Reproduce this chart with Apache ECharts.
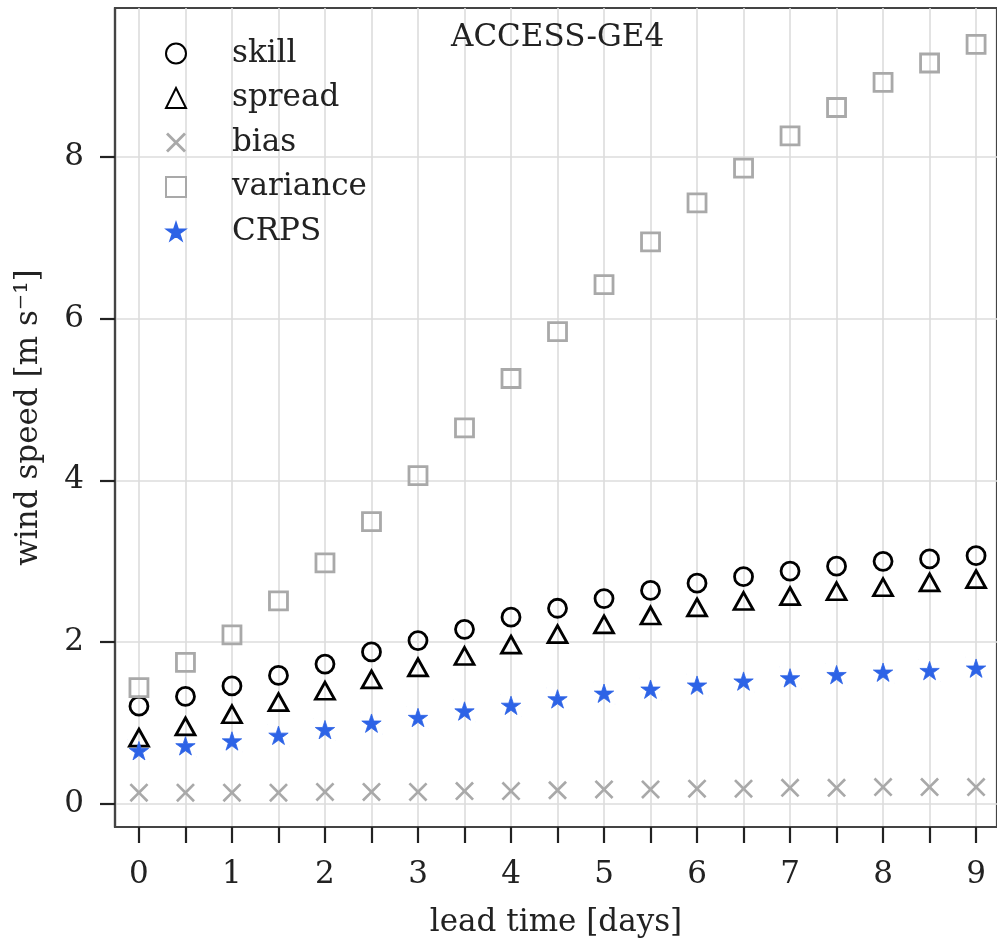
<!DOCTYPE html>
<html>
<head>
<meta charset="utf-8">
<script src="https://cdn.jsdelivr.net/npm/echarts@6/dist/echarts.min.js"></script>
<style>
  html, body { margin: 0; padding: 0; background: #fff; }
  #chart { width: 997px; height: 943px; }
</style>
</head>
<body>
<div id="chart"></div>
<script>
// Lead times in days (every 12 h)
const leadTime = [0, 0.5, 1, 1.5, 2, 2.5, 3, 3.5, 4, 4.5, 5, 5.5, 6, 6.5, 7, 7.5, 8, 8.5, 9];

// Verification scores, wind speed [m s^-1]
const skill    = [1.21, 1.33, 1.46, 1.59, 1.73, 1.88, 2.02, 2.16, 2.31, 2.42, 2.54, 2.64, 2.73, 2.81, 2.88, 2.94, 3.00, 3.03, 3.07];
const spread   = [0.82, 0.96, 1.11, 1.26, 1.40, 1.54, 1.69, 1.83, 1.97, 2.10, 2.22, 2.33, 2.43, 2.51, 2.57, 2.63, 2.68, 2.74, 2.78];
const bias     = [0.14, 0.14, 0.14, 0.14, 0.15, 0.15, 0.15, 0.16, 0.16, 0.17, 0.18, 0.18, 0.19, 0.19, 0.20, 0.20, 0.21, 0.21, 0.21];
const variance = [1.44, 1.75, 2.09, 2.51, 2.98, 3.49, 4.06, 4.65, 5.26, 5.84, 6.42, 6.95, 7.43, 7.86, 8.26, 8.61, 8.92, 9.16, 9.39];
const crps     = [0.66, 0.72, 0.78, 0.85, 0.92, 1.00, 1.07, 1.15, 1.22, 1.30, 1.37, 1.42, 1.47, 1.52, 1.56, 1.60, 1.63, 1.65, 1.68];

// Axis ticks
const xTicks = [0, 0.5, 1, 1.5, 2, 2.5, 3, 3.5, 4, 4.5, 5, 5.5, 6, 6.5, 7, 7.5, 8, 8.5, 9];
const xLabels = [0, 1, 2, 3, 4, 5, 6, 7, 8, 9];
const yTicks = [0, 2, 4, 6, 8];

const FONT = 'DejaVu Serif';
const FS = 31;
const TEXT = '#222';
const BLUE = '#2d63e6';
const GREY = '#a9a9a9';

// Marker shapes not built into ECharts
const crossPath = 'path://M0,10 L10,0 L50,40 L90,0 L100,10 L60,50 L100,90 L90,100 L50,60 L10,100 L0,90 L40,50 Z';
// five-pointed star with a small empty margin around it
const starPath = 'path://M-4,-9 L-3.9,-9 Z M104,99 L103.9,99 Z ' +
  'M50,0 L61.23,34.55 L97.55,34.55 L68.17,55.9 L79.39,90.45 L50,69.1 L20.61,90.45 L31.83,55.9 L2.45,34.55 L38.77,34.55 Z';

const pairs = ys => leadTime.map((t, i) => [t, ys[i]]);

const chart = echarts.init(document.getElementById('chart'), null, { renderer: 'canvas' });

chart.setOption({
  animation: false,
  backgroundColor: '#fff',
  title: {
    text: 'ACCESS-GE4',
    left: 451,
    top: 22,
    padding: 0,
    textStyle: { fontFamily: FONT, fontSize: FS, fontWeight: 'normal', color: TEXT }
  },
  legend: {
    orient: 'vertical',
    left: 165,
    top: 38,
    padding: 0,
    itemWidth: 20,
    itemHeight: 20,
    itemGap: 13.5,
    textStyle: { fontFamily: FONT, fontSize: FS, lineHeight: 20, color: TEXT, padding: [0, 0, 0, 41] },
    data: ['skill', 'spread', 'bias', 'variance', 'CRPS']
  },
  grid: {
    left: 115,
    right: -2,
    top: 8,
    bottom: 115,
    show: true,
    borderColor: '#444',
    borderWidth: 2.2
  },
  xAxis: {
    type: 'value',
    min: -0.2575,
    max: 9.225,
    name: 'lead time [days]',
    nameLocation: 'middle',
    nameGap: 80,
    nameTextStyle: { fontFamily: FONT, fontSize: FS, color: TEXT },
    axisLine: { show: true, onZero: false, lineStyle: { color: '#444', width: 2.2 } },
    axisTick: { show: true, inside: false, length: 16, customValues: xTicks, lineStyle: { color: '#222', width: 2.2 } },
    axisLabel: { customValues: xLabels, margin: 32, fontFamily: FONT, fontSize: FS, color: TEXT },
    splitLine: { show: true, lineStyle: { color: '#dcdcdc', width: 1.6 } }
  },
  yAxis: {
    type: 'value',
    min: -0.284,
    max: 9.84,
    name: 'wind speed [m s\u207B\u00B9]',
    nameLocation: 'middle',
    nameGap: 71,
    nameTextStyle: { fontFamily: FONT, fontSize: FS, color: TEXT },
    axisLine: { show: true, onZero: false, lineStyle: { color: '#444', width: 2.2 } },
    axisTick: { show: true, inside: false, length: 15, customValues: yTicks, lineStyle: { color: '#222', width: 2.2 } },
    axisLabel: { customValues: yTicks, margin: 31, fontFamily: FONT, fontSize: FS, color: TEXT },
    splitLine: { show: true, lineStyle: { color: '#dcdcdc', width: 1.6 } }
  },
  series: [
    {
      name: 'skill', type: 'scatter', data: pairs(skill),
      symbol: 'circle', symbolSize: 18,
      itemStyle: { color: 'rgba(255,255,255,0)', borderColor: '#000', borderWidth: 2.8, opacity: 1 }
    },
    {
      name: 'spread', type: 'scatter', data: pairs(spread),
      symbol: 'triangle', symbolSize: [19, 17],
      itemStyle: { color: 'rgba(255,255,255,0)', borderColor: '#000', borderWidth: 2.8, opacity: 1 }
    },
    {
      name: 'bias', type: 'scatter', data: pairs(bias),
      symbol: crossPath, symbolSize: 19,
      itemStyle: { color: GREY, opacity: 1 }
    },
    {
      name: 'variance', type: 'scatter', data: pairs(variance),
      symbol: 'rect', symbolSize: 18,
      itemStyle: { color: 'rgba(255,255,255,0)', borderColor: GREY, borderWidth: 2.8, opacity: 1 }
    },
    {
      name: 'CRPS', type: 'scatter', data: pairs(crps),
      symbol: starPath, symbolSize: 22, symbolKeepAspect: true,
      itemStyle: { color: BLUE, borderColor: BLUE, borderWidth: 0.8, opacity: 1 }
    }
  ]
});
</script>
</body>
</html>
